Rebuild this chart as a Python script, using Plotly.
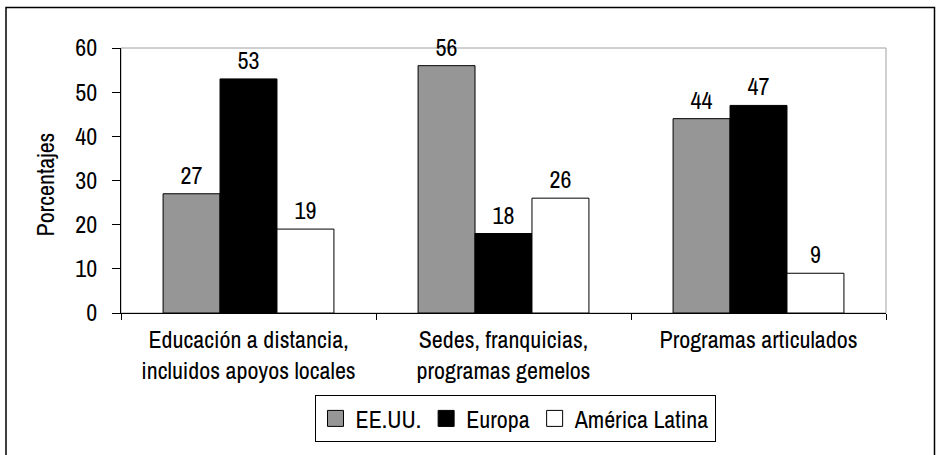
import plotly.graph_objects as go

categories = ["Educación a distancia,<br>incluidos apoyos locales",
              "Sedes, franquicias,<br>programas gemelos",
              "Programas articulados"]
series_names = ["EE.UU.", "Europa", "América Latina"]
eeuu = [27, 56, 44]
europa = [53, 18, 47]
latam = [19, 26, 9]
colors = ["#969696", "#000000", "#ffffff"]

FONT = "Archivo Narrow, Liberation Sans, sans-serif"
FS = 24

fig = go.Figure()
for name, vals, col in zip(series_names, [eeuu, europa, latam], colors):
    fig.add_trace(go.Bar(
        x=categories, y=vals, name=name, showlegend=False, legendgroup=name,
        marker=dict(color=col, line=dict(color="#000000", width=1)),
        text=[str(v) for v in vals], textposition="outside",
        textfont=dict(family=FONT, size=FS, color="#000000"),
        cliponaxis=False,
    ))
# legend entries with larger square swatches
for name, col in zip(series_names, colors):
    fig.add_trace(go.Scatter(
        x=[categories[0]], y=[None], name=name, mode="markers", legendgroup=name,
        marker=dict(symbol="square", size=16, color=col,
                    line=dict(color="#000000", width=1)),
        hoverinfo="skip",
    ))

W, H = 936, 455
L, R, T, B = 121, 50, 48, 139
pw, ph = W - L - R, H - T - B

def px_x(x):
    return (x - L) / pw

def px_y(y):
    return (H - B - y) / ph

fig.update_layout(
    width=W, height=H,
    margin=dict(l=L, r=R, t=T, b=B),
    paper_bgcolor="white", plot_bgcolor="white",
    barmode="group", bargap=0.33, bargroupgap=0,
    font=dict(family=FONT, size=FS, color="#000000"),
    showlegend=True,
    legend=dict(orientation="h", x=px_x(515), xanchor="center",
                y=px_y(423), yanchor="middle",
                bordercolor="#000000", borderwidth=1,
                font=dict(family=FONT, size=FS, color="#000000"),
                itemwidth=30, itemsizing="trace", traceorder="normal"),
    xaxis=dict(showline=True, linecolor="#000000", linewidth=1,
               ticks="outside", tickson="boundaries", ticklen=6,
               tickcolor="#000000", showgrid=False, ticklabelstandoff=5,
               tickfont=dict(family=FONT, size=FS)),
    yaxis=dict(range=[0, 60], dtick=10, showline=True, linecolor="#000000",
               linewidth=1, ticks="outside", ticklen=8, tickcolor="#000000",
               showgrid=False, zeroline=False, ticklabelstandoff=10,
               tickfont=dict(family=FONT, size=FS)),
    shapes=[
        dict(type="rect", xref="paper", yref="paper", x0=0, x1=1, y0=0, y1=1,
             line=dict(color="#a0a0a0", width=1), layer="below"),
        dict(type="rect", xref="paper", yref="paper",
             x0=px_x(6), x1=px_x(934.5), y0=px_y(470), y1=px_y(7),
             line=dict(color="#000000", width=1.5), layer="below"),
    ],
    annotations=[
        dict(text="Porcentajes", xref="paper", yref="paper",
             x=px_x(45), y=px_y(186), textangle=-90, showarrow=False,
             xanchor="center", yanchor="middle",
             font=dict(family=FONT, size=FS, color="#000000")),
    ],
)

fig.write_html("out.html", config={"displayModeBar": False},
               post_script="document.body.style.margin='0';")
